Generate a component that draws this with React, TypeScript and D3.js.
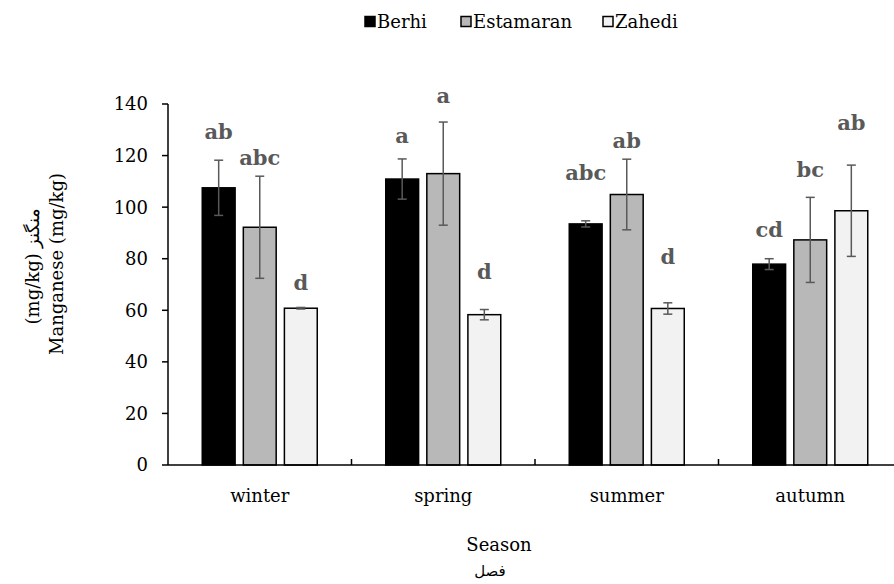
import React from "react";
import * as d3 from "d3";

const seasons = ["winter", "spring", "summer", "autumn"];
const cultivars = ["Berhi", "Estamaran", "Zahedi"];
const fills = ["#000000", "#b8b8b8", "#f2f2f2"];

// mean values per cultivar (mg/kg), in season order
const berhi = [107.5, 110.9, 93.5, 77.9];
const estamaran = [92.2, 113.0, 104.9, 87.3];
const zahedi = [60.8, 58.3, 60.7, 98.6];

// error bar half-widths
const berhiErr = [10.7, 7.8, 1.2, 2.1];
const estamaranErr = [19.8, 20.0, 13.7, 16.5];
const zahediErr = [0.3, 2.0, 2.2, 17.7];

// significance letters and the level where each is written
const berhiLetters = ["ab", "a", "abc", "cd"];
const estamaranLetters = ["abc", "a", "ab", "bc"];
const zahediLetters = ["d", "d", "d", "ab"];
const berhiLetterAt = [126.4, 124.7, 110.5, 88.4];
const estamaranLetterAt = [116.3, 140.4, 122.9, 111.6];
const zahediLetterAt = [67.8, 72.1, 77.9, 129.8];

const yTicks = [0, 20, 40, 60, 80, 100, 120, 140];

const values = [berhi, estamaran, zahedi];
const errors = [berhiErr, estamaranErr, zahediErr];
const letters = [berhiLetters, estamaranLetters, zahediLetters];
const letterAt = [berhiLetterAt, estamaranLetterAt, zahediLetterAt];

const serif = { fontFamily: "DejaVu Serif" };
const persian = { fontFamily: "DejaVu Sans" };

export default function App() {
  const width = 894;
  const height = 584;
  const left = 168;
  const bottom = 465;
  const top = 104;

  const x = d3.scaleBand().domain(seasons).range([left, 902]).padding(0);
  const y = d3.scaleLinear().domain([0, 140]).range([bottom, top]);

  const groupWidth = 115;
  const inner = d3
    .scaleBand()
    .domain(cultivars)
    .range([0, groupWidth])
    .paddingInner(0.2)
    .paddingOuter(0);

  const legendX = [365, 461, 603];

  return (
    <svg width={width} height={height} style={{ position: "absolute", left: 0, top: 0 }}>
      {/* legend */}
      {cultivars.map((c, i) => (
        <g key={c}>
          <rect
            x={legendX[i]}
            y={16.5}
            width={10}
            height={10}
            fill={fills[i]}
            stroke="#000"
            strokeWidth={1.5}
          />
          <text x={legendX[i] + 12} y={28} fontSize={18} fill="#000" style={serif}>
            {c}
          </text>
        </g>
      ))}

      {/* bars */}
      {seasons.map((s, si) => {
        const g0 = x(s)! + x.bandwidth() / 2 - groupWidth / 2;
        return (
          <g key={s}>
            {cultivars.map((c, ci) => {
              const v = values[ci][si];
              const e = errors[ci][si];
              const bx = g0 + inner(c)!;
              const bw = inner.bandwidth();
              const cx = bx + bw / 2;
              return (
                <g key={c}>
                  <rect
                    x={bx}
                    y={y(v)}
                    width={bw}
                    height={bottom - y(v)}
                    fill={fills[ci]}
                    stroke="#000"
                    strokeWidth={1.5}
                  />
                  <g stroke="#595959" strokeWidth={1.5}>
                    <line x1={cx} x2={cx} y1={y(v + e)} y2={y(v - e)} />
                    <line x1={cx - 4.5} x2={cx + 4.5} y1={y(v + e)} y2={y(v + e)} />
                    <line x1={cx - 4.5} x2={cx + 4.5} y1={y(v - e)} y2={y(v - e)} />
                  </g>
                  <text
                    x={cx}
                    y={y(letterAt[ci][si])}
                    textAnchor="middle"
                    fontSize={21}
                    fontWeight="bold"
                    fill="#595959"
                    style={serif}
                  >
                    {letters[ci][si]}
                  </text>
                </g>
              );
            })}
          </g>
        );
      })}

      {/* y axis */}
      <line x1={left} x2={left} y1={top} y2={bottom} stroke="#000" strokeWidth={1.5} />
      {yTicks.map((t) => (
        <g key={t}>
          <line x1={left - 6} x2={left} y1={y(t)} y2={y(t)} stroke="#000" strokeWidth={1.5} />
          <text
            x={left - 20}
            y={y(t)}
            dy="0.36em"
            textAnchor="end"
            fontSize={18}
            fill="#000"
            style={serif}
          >
            {t}
          </text>
        </g>
      ))}

      {/* x axis */}
      <line x1={left} x2={width} y1={bottom} y2={bottom} stroke="#000" strokeWidth={1.5} />
      {seasons.slice(1).map((s) => (
        <line
          key={s}
          x1={x(s)!}
          x2={x(s)!}
          y1={bottom}
          y2={bottom - 6}
          stroke="#000"
          strokeWidth={1.5}
        />
      ))}
      {seasons.map((s) => (
        <text
          key={s}
          x={x(s)! + x.bandwidth() / 2}
          y={502}
          textAnchor="middle"
          fontSize={18}
          fill="#000"
          style={serif}
        >
          {s}
        </text>
      ))}

      {/* axis titles */}
      <text x={499} y={551} textAnchor="middle" fontSize={18} fill="#000" style={serif}>
        Season
      </text>
      <text x={490} y={576} textAnchor="middle" fontSize={15} fill="#000" style={persian}>
        فصل
      </text>
      <text
        transform="translate(63,264) rotate(-90)"
        textAnchor="middle"
        fontSize={18}
        fill="#000"
        style={serif}
      >
        Manganese (mg/kg)
      </text>
      <text
        transform="translate(39,266) rotate(-90)"
        textAnchor="middle"
        fontSize={18}
        fill="#000"
        style={serif}
      >
        (mg/kg) منگنز
      </text>
    </svg>
  );
}
